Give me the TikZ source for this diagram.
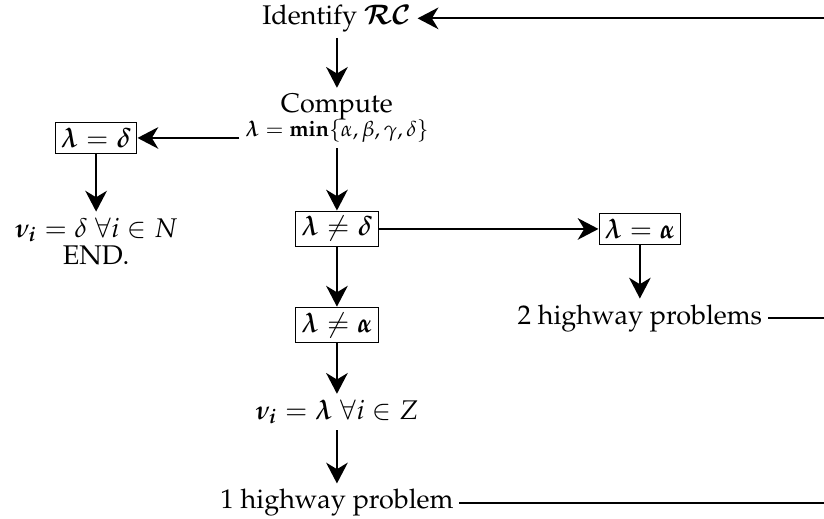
\documentclass[tikz,border=0pt]{standalone}
\usepackage{amsmath}
\usepackage[T1]{fontenc}
\usepackage{mathpazo}
\usepackage{tikz}
\usetikzlibrary{arrows.meta}
\tikzstyle{valbox} = [rectangle, draw, thin, inner sep=2pt]
\tikzstyle{plain} = [inner sep=2pt]
\tikzstyle{flow} = [-{Stealth[length=7.7pt,width=8pt,inset=2.4pt]}, thick]

\begin{document}
\begin{tikzpicture}
  \useasboundingbox (0pt, 0pt) rectangle (305.2pt, -192.2pt);
  \draw (124.8pt, -6.8pt)node[plain](ident){Identify $\boldsymbol{\mathcal{RC}}$};
  \draw (124.8pt, -39.6pt)node[plain](comp){Compute};
  \draw (124.8pt, -48.5pt)node[plain, font=\footnotesize](minf){$\boldsymbol{\lambda} = \textbf{min}\{\alpha,\beta,\gamma,\delta\}$};
  \draw (35.6pt, -51.1pt)node[valbox](ld){$\boldsymbol{\lambda} = \boldsymbol{\delta}$};
  \draw (35.6pt, -89.3pt)node[plain, align=center](nuN){$\boldsymbol{\nu_i} = \delta\;\forall i \in N$\\[-2pt] END.};
  \draw (124.8pt, -84.8pt)node[valbox](nd){$\boldsymbol{\lambda} \neq \boldsymbol{\delta}$};
  \draw (237.0pt, -84.8pt)node[valbox](la){$\boldsymbol{\lambda} = \boldsymbol{\alpha}$};
  \draw (237.0pt, -117.8pt)node[plain](two){2 highway problems};
  \draw (124.8pt, -120.4pt)node[valbox](na){$\boldsymbol{\lambda} \neq \boldsymbol{\alpha}$};
  \draw (124.8pt, -152.6pt)node[plain](nuZ){$\boldsymbol{\nu_i} = \boldsymbol{\lambda}\;\forall i \in Z$};
  \draw (124.8pt, -186.3pt)node[plain](one){1 highway problem};
  % return lines to the right edge
  \coordinate (r0) at (305.2pt, -6.8pt);
  \coordinate (r2) at (305.2pt, -117.8pt);
  \coordinate (r1) at (305.2pt, -186.3pt);
  \path[flow] (ident) edge (comp);
  \path[flow] (minf.west |- ld) edge (ld);
  \path[flow] (minf) edge (nd);
  \path[flow] (ld) edge (nuN);
  \path[flow] (nd) edge (la);
  \path[flow] (la) edge (two);
  \path[flow] (nd) edge (na);
  \path[flow] (na) edge (nuZ);
  \path[flow] (nuZ) edge (one);
  \draw[thick] (two) -- (r2);
  \draw[thick] (one) -- (r1);
  \path[flow] (r0) edge (ident);
\end{tikzpicture}
\end{document}
